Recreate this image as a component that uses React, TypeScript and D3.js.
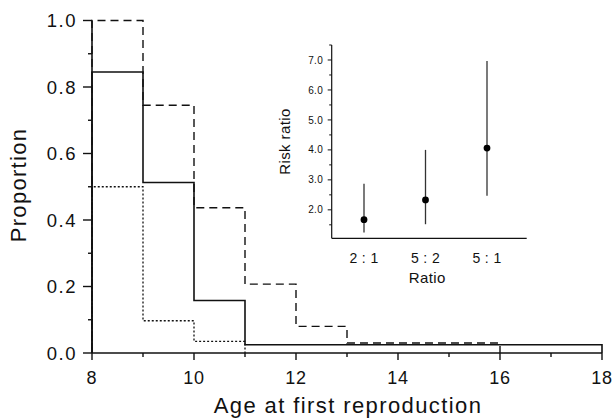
import React from "react";
import * as d3 from "d3";

const ageEdges = [8, 9, 10, 11, 12, 13, 14, 15, 16, 17, 18];
const solidValues = [0.845, 0.513, 0.158, 0.025, 0.025, 0.025, 0.025, 0.025, 0.025, 0.025];
const dashedValues = [1.0, 0.745, 0.437, 0.207, 0.08, 0.03, 0.03, 0.03];
const dottedValues = [0.5, 0.097, 0.035];

const xMajorTicks = [8, 10, 12, 14, 16, 18];
const xMinorTicks = [9, 11, 13, 15, 17];
const yMajorTicks = [0, 0.2, 0.4, 0.6, 0.8, 1.0];
const yMinorTicks = [0.1, 0.3, 0.5, 0.7, 0.9];

const ratios = ["2 : 1", "5 : 2", "5 : 1"];
const riskRatio = [1.67, 2.33, 4.06];
const ciLow = [1.24, 1.52, 2.47];
const ciHigh = [2.87, 4.0, 6.97];
const insetMajorTicks = [2, 3, 4, 5, 6, 7];
const insetMinorTicks = [1.5, 2.5, 3.5, 4.5, 5.5, 6.5, 7.5];

const FONT = "'Liberation Sans', Arial, Helvetica, sans-serif";
const INK = "#111";

export default function App() {
  const W = 613;
  const H = 418;
  const x = d3.scaleLinear().domain([8, 18]).range([92, 602]);
  const y = d3.scaleLinear().domain([0, 1]).range([353, 20.5]);

  const stepLine = d3
    .line<[number, number]>()
    .x((d) => x(d[0]))
    .y((d) => y(d[1]))
    .curve(d3.curveStepAfter);

  const stepPoints = (vals: number[]): [number, number][] => {
    const pts: [number, number][] = [[ageEdges[0], 0]];
    vals.forEach((v, i) => pts.push([ageEdges[i], v]));
    const end = ageEdges[vals.length];
    pts.push([end, vals[vals.length - 1]]);
    pts.push([end, 0]);
    return pts;
  };

  // inset scales
  const insetLeft = 331.7;
  const insetRight = 526.7;
  const iy = d3.scaleLinear().domain([1.05, 7.5]).range([238.3, 45]);
  const ix = d3.scalePoint<string>().domain(ratios).range([insetLeft + 32.3, insetLeft + 155.3]);

  return (
    <svg
      width={W}
      height={H}
      style={{ position: "absolute", left: 0, top: 0, background: "#fff" }}
      fontFamily={FONT}
    >
      <rect width={W} height={H} fill="#fff" />
      {/* main series */}
      <path d={stepLine(stepPoints(dottedValues)) || ""} fill="none" stroke={INK} strokeWidth={1.3} strokeDasharray="2,2" />
      <path d={stepLine(stepPoints(dashedValues)) || ""} fill="none" stroke={INK} strokeWidth={1.4} strokeDasharray="8,5" />
      <path d={stepLine(stepPoints(solidValues)) || ""} fill="none" stroke={INK} strokeWidth={1.6} />

      {/* main axes */}
      <line x1={x(8)} x2={x(18)} y1={y(0)} y2={y(0)} stroke={INK} strokeWidth={1.6} />
      <line x1={x(8)} x2={x(8)} y1={y(0)} y2={y(1)} stroke={INK} strokeWidth={1.6} />
      {xMajorTicks.map((t) => (
        <g key={"xM" + t}>
          <line x1={x(t)} x2={x(t)} y1={y(0)} y2={y(0) + 7} stroke={INK} strokeWidth={1.4} />
          <text x={x(t)} y={383.5} fontSize={18} letterSpacing={0.8} textAnchor="middle" fill={INK}>
            {t}
          </text>
        </g>
      ))}
      {xMinorTicks.map((t) => (
        <line key={"xm" + t} x1={x(t)} x2={x(t)} y1={y(0)} y2={y(0) + 4} stroke={INK} strokeWidth={1.4} />
      ))}
      {yMajorTicks.map((t) => (
        <g key={"yM" + t}>
          <line x1={x(8) - 9} x2={x(8)} y1={y(t)} y2={y(t)} stroke={INK} strokeWidth={1.4} />
          <text x={77} y={y(t)} dy="0.36em" fontSize={18.5} letterSpacing={1.5} textAnchor="end" fill={INK}>
            {t.toFixed(1)}
          </text>
        </g>
      ))}
      {yMinorTicks.map((t) => (
        <line key={"ym" + t} x1={x(8) - 4} x2={x(8)} y1={y(t)} y2={y(t)} stroke={INK} strokeWidth={1.4} />
      ))}
      <text x={(x(8) + x(18)) / 2 + 1} y={413} fontSize={22} letterSpacing={1.4} textAnchor="middle" fill={INK}>
        Age at first reproduction
      </text>
      <text transform={`translate(26,185) rotate(-90)`} fontSize={22} letterSpacing={1.3} textAnchor="middle" fill={INK}>
        Proportion
      </text>

      {/* inset */}
      <line x1={insetLeft} x2={insetLeft} y1={iy(7.5)} y2={iy(1.05)} stroke={INK} strokeWidth={1.2} />
      <line x1={insetLeft} x2={insetRight} y1={iy(1.05)} y2={iy(1.05)} stroke={INK} strokeWidth={1.2} />
      {insetMajorTicks.map((t) => (
        <g key={"iM" + t}>
          <line x1={insetLeft - 4} x2={insetLeft} y1={iy(t)} y2={iy(t)} stroke={INK} strokeWidth={1} />
          <text x={323} y={iy(t)} dy="0.36em" fontSize={10} letterSpacing={0.3} textAnchor="end" fill={INK}>
            {t.toFixed(1)}
          </text>
        </g>
      ))}
      {insetMinorTicks.map((t) => (
        <line key={"im" + t} x1={insetLeft - 2.5} x2={insetLeft} y1={iy(t)} y2={iy(t)} stroke={INK} strokeWidth={1} />
      ))}
      {ratios.map((r, i) => (
        <g key={r}>
          <line x1={ix(r)!} x2={ix(r)!} y1={iy(ciLow[i])} y2={iy(ciHigh[i])} stroke="#333" strokeWidth={1.3} />
          <circle cx={ix(r)!} cy={iy(riskRatio[i])} r={3.4} fill="#000" />
          <text x={ix(r)!} y={262.5} fontSize={14} letterSpacing={0.4} textAnchor="middle" fill={INK}>
            {r}
          </text>
        </g>
      ))}
      <text x={(insetLeft + insetRight) / 2 - 2} y={282.5} fontSize={15} letterSpacing={0.4} textAnchor="middle" fill={INK}>
        Ratio
      </text>
      <text transform={`translate(290,141.5) rotate(-90)`} fontSize={15} letterSpacing={0.4} textAnchor="middle" fill={INK}>
        Risk ratio
      </text>
    </svg>
  );
}
